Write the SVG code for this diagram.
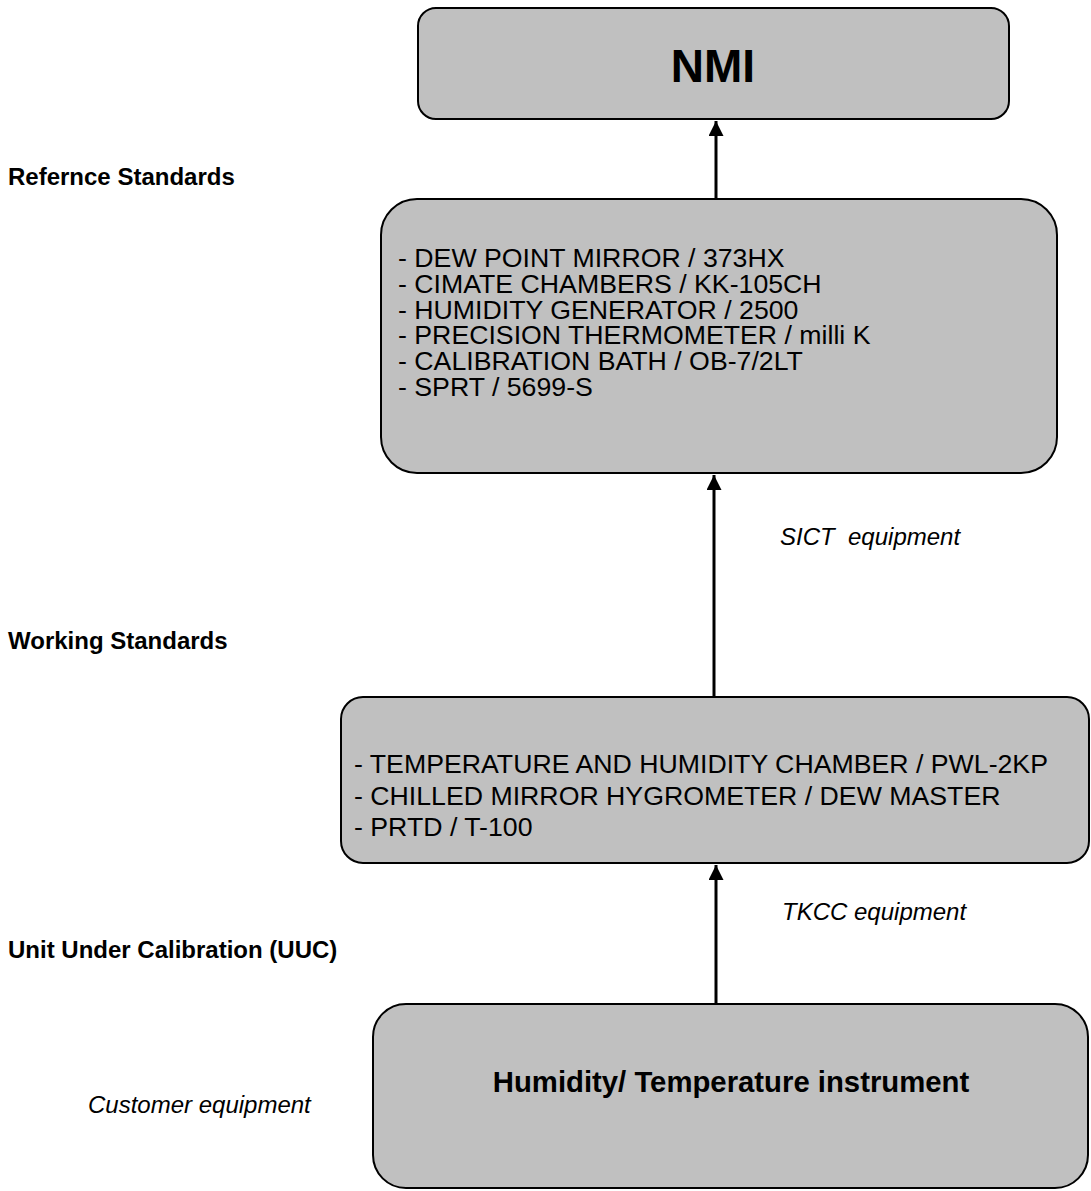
<svg xmlns="http://www.w3.org/2000/svg" width="1091" height="1191" viewBox="0 0 1091 1191">
<style>
.box{fill:#c0c0c0;stroke:#000;stroke-width:2}
.t{font-family:"Liberation Sans",Arial,sans-serif;fill:#000}
.lbl{font-size:24px;font-weight:bold}
.it{font-size:24px;font-style:italic}
.item{font-size:26.7px}
.conn{stroke:#000;stroke-width:3;fill:none}
</style>
<defs>
<marker id="ah" viewBox="0 0 10 10" refX="10" refY="5" markerWidth="5" markerHeight="5" markerUnits="strokeWidth" orient="auto">
<path d="M0,0 L10,5 L0,10 Z" fill="#000"/>
</marker>
</defs>
<rect width="1091" height="1191" fill="#fff"/>
<g id="labels">
<text class="t lbl" x="8" y="185">Refernce Standards</text>
<text class="t lbl" x="8" y="649">Working Standards</text>
<text class="t lbl" x="8" y="958">Unit Under Calibration (UUC)</text>
<text class="t it" x="88" y="1113">Customer equipment</text>
<text class="t it" x="780" y="545" xml:space="preserve">SICT  equipment</text>
<text class="t it" x="782" y="920">TKCC equipment</text>
</g>
<g id="connectors">
<line class="conn" x1="716" y1="199" x2="716" y2="121" marker-end="url(#ah)"/>
<line class="conn" x1="714" y1="697" x2="714" y2="475" marker-end="url(#ah)"/>
<line class="conn" x1="716" y1="1004" x2="716" y2="865" marker-end="url(#ah)"/>
</g>
<g id="nmi">
<rect class="box" x="418" y="8" width="591" height="111" rx="18" ry="18"/>
<text class="t" x="713" y="82" font-size="46" font-weight="bold" text-anchor="middle">NMI</text>
</g>
<g id="reference">
<rect class="box" x="381" y="199" width="676" height="274" rx="36" ry="36"/>
<text class="t item" x="398" y="267">- DEW POINT MIRROR / 373HX</text>
<text class="t item" x="398" y="293">- CIMATE CHAMBERS / KK-105CH</text>
<text class="t item" x="398" y="319">- HUMIDITY GENERATOR / 2500</text>
<text class="t item" x="398" y="344">- PRECISION THERMOMETER / milli K</text>
<text class="t item" x="398" y="370">- CALIBRATION BATH / OB-7/2LT</text>
<text class="t item" x="398" y="396">- SPRT / 5699-S</text>
</g>
<g id="working">
<rect class="box" x="341" y="697" width="748" height="166" rx="22" ry="22"/>
<text class="t item" x="354" y="773">- TEMPERATURE AND HUMIDITY CHAMBER / PWL-2KP</text>
<text class="t item" x="354" y="805">- CHILLED MIRROR HYGROMETER / DEW MASTER</text>
<text class="t item" x="354" y="836">- PRTD / T-100</text>
</g>
<g id="uuc">
<rect class="box" x="373" y="1004" width="715" height="184" rx="33" ry="33"/>
<text class="t" x="731" y="1092" font-size="29.3" font-weight="bold" text-anchor="middle">Humidity/ Temperature instrument</text>
</g>
</svg>
